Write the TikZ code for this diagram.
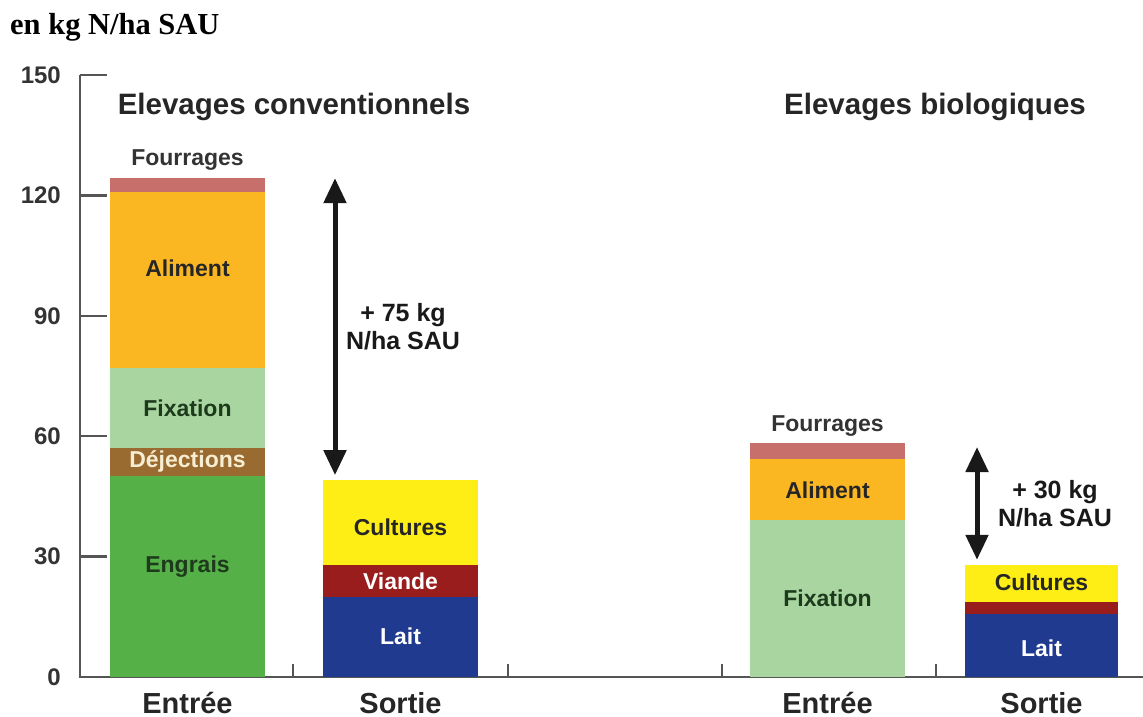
\documentclass[tikz,border=0pt]{standalone}
\usepackage{fontspec}
\setmainfont{Liberation Sans}
\newfontfamily\headserif{Liberation Serif}
\usepackage{tikz}
\usetikzlibrary{arrows.meta, positioning}
\definecolor{NitroEngrais}{HTML}{55B047}
\definecolor{NitroDejections}{HTML}{9A6B30}
\definecolor{NitroFixation}{HTML}{A9D6A0}
\definecolor{NitroAliment}{HTML}{FBB722}
\definecolor{NitroFourrages}{HTML}{C7706B}
\definecolor{NitroCultures}{HTML}{FEEE16}
\definecolor{NitroViande}{HTML}{9A1D1E}
\definecolor{NitroLait}{HTML}{1F3A8F}
\definecolor{NitroAxis}{HTML}{555555}
\definecolor{NitroDarkText}{HTML}{1E3A1C}
\definecolor{NitroCream}{HTML}{F6EDD2}

\begin{document}
\begin{tikzpicture}[x=1pt, y=4.013pt,
  every node/.style={font=\fontsize{23}{26}\selectfont\bfseries, inner sep=0pt},
  axisline/.style={draw=NitroAxis, line width=2.4pt},
  bigarrow/.style={line width=5pt, draw=black!90, {Triangle[width=22pt, length=25pt]}-{Triangle[width=22pt, length=25pt]}},
  headline/.style={font=\fontsize{29.5}{32}\selectfont\bfseries, text=black!85},
  category/.style={font=\fontsize{29}{31}\selectfont\bfseries, text=black!85, anchor=base},
  gain/.style={font=\fontsize{25}{28}\selectfont\bfseries, align=center, text=black!90}]
  \useasboundingbox (0,-9.97) rectangle (1143,168.7);

  % unit on top
  \node [anchor=base west, font=\headserif\fontsize{30.5}{32}\selectfont\bfseries] (unit) at (10,160) {en kg N/ha SAU};

  % axes
  \draw [axisline] (80,150) -- (80,0) -- (1143,0);
  \foreach \v in {0,30,...,150} {
    \draw [axisline] (80,\v) -- (107,\v);
    \node [anchor=east, font=\fontsize{24}{26}\selectfont\bfseries, text=black!80] (lab\v) at (61,\v) {\v};
  }
  \foreach \t in {293,508,722,936} {
    \draw [axisline] (\t,0) -- (\t,3.2);
  }

  % headings
  \node [headline] (conv) at (294,142) {Elevages conventionnels};
  \node [headline] (bio) at (935,142) {Elevages biologiques};

  % conventional, entree
  \fill [NitroEngrais] (110,0) rectangle (265,50);
  \fill [NitroDejections] (110,50) rectangle (265,57);
  \fill [NitroFixation] (110,57) rectangle (265,77);
  \fill [NitroAliment] (110,77) rectangle (265,120.8);
  \fill [NitroFourrages] (110,120.8) rectangle (265,124.3);
  \coordinate (convIn) at (187.5,124.3);
  \node [above=8pt of convIn, text=black!80] (convFourrages) {Fourrages};
  \node [text=black!85] (convAliment) at (187.5,101.9) {Aliment};
  \node [text=NitroDarkText] (convFixation) at (187.5,67) {Fixation};
  \node [text=NitroCream] (convDejections) at (187.5,53.8) {Déjections};
  \node [text=NitroDarkText] (convEngrais) at (187.5,27.4) {Engrais};

  % conventional, sortie
  \fill [NitroLait] (323,0) rectangle (478,20);
  \fill [NitroViande] (323,20) rectangle (478,27.8);
  \fill [NitroCultures] (323,27.8) rectangle (478,49);
  \node [text=black!85] (convCultures) at (400.5,37.4) {Cultures};
  \node [text=white] (convViande) at (400.5,23.9) {Viande};
  \node [text=white] (convLait) at (400.5,10.2) {Lait};

  % bio, entree
  \fill [NitroFixation] (750,0) rectangle (905,39);
  \fill [NitroAliment] (750,39) rectangle (905,54.2);
  \fill [NitroFourrages] (750,54.2) rectangle (905,58.3);
  \coordinate (bioIn) at (827.5,58.3);
  \node [above=6pt of bioIn, text=black!80] (bioFourrages) {Fourrages};
  \node [text=black!85] (bioAliment) at (827.5,46.6) {Aliment};
  \node [text=NitroDarkText] (bioFixation) at (827.5,19.7) {Fixation};

  % bio, sortie
  \fill [NitroLait] (965,0) rectangle (1118,15.7);
  \fill [NitroViande] (965,15.7) rectangle (1118,18.8);
  \fill [NitroCultures] (965,18.8) rectangle (1118,28);
  \node [text=black!85] (bioCultures) at (1041.5,23.7) {Cultures};
  \node [text=white] (bioLait) at (1041.5,7.2) {Lait};

  % categories
  \node [category] (convEntree) at (187.5,-9) {Entrée};
  \node [category] (convSortie) at (400.5,-9) {Sortie};
  \node [category] (bioEntree) at (827.5,-9) {Entrée};
  \node [category] (bioSortie) at (1041.5,-9) {Sortie};

  % balance arrows
  \coordinate (convTop) at (335,124.3);
  \coordinate (convBot) at (335,50.3);
  \draw [bigarrow] (convTop) -- (convBot);
  \node [gain] (convGain) at (403,87.2) {+ 75 kg\\N/ha SAU};

  \coordinate (bioTop) at (977,57.3);
  \coordinate (bioBot) at (977,29.2);
  \draw [bigarrow] (bioTop) -- (bioBot);
  \node [gain] (bioGain) at (1055,43.1) {+ 30 kg\\N/ha SAU};
\end{tikzpicture}
\end{document}
